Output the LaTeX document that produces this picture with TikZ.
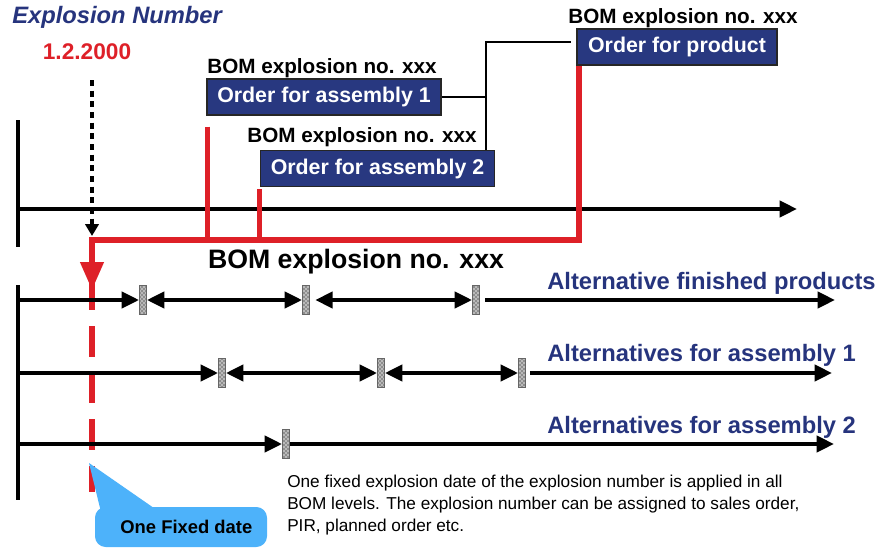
\documentclass[tikz,border=0pt]{standalone}
\usepackage{fontspec}
\setmainfont{Liberation Sans}
\usetikzlibrary{arrows.meta,calc,patterns}
\definecolor{boxblue}{RGB}{40,56,128}
\definecolor{txtblue}{RGB}{38,52,125}
\definecolor{myred}{RGB}{222,32,40}
\definecolor{callblue}{RGB}{77,178,250}
\begin{document}
\begin{tikzpicture}[x=0.75pt,y=-0.75pt,
  orderbox/.style={draw=black!85, line width=0.8pt, fill=boxblue, text=white,
    font=\bfseries\fontsize{16}{18}\selectfont, minimum height=27pt, inner sep=0pt},
  bomlab/.style={font=\bfseries\fontsize{15.5}{18}\selectfont, inner sep=0pt},
  altlab/.style={font=\bfseries\fontsize{17.8}{20}\selectfont, text=txtblue, anchor=west, inner sep=0pt},
  marker/.style={draw=black!60, line width=0.4pt, preaction={fill=gray!55},
    pattern=crosshatch dots, pattern color=black,
    minimum width=5.5pt, minimum height=22pt, inner sep=0pt},
  tl/.style={line width=3pt, black, >={Triangle[length=13pt,width=12pt]}},
  axis/.style={line width=3.5pt, black},
  redline/.style={line width=4pt, myred},
  conn/.style={line width=2.2pt, black}
]
\useasboundingbox (0,0) rectangle (885,553);

% titles
\node[font=\bfseries\itshape\fontsize{17.8}{20}\selectfont, text=txtblue, anchor=west, inner sep=0pt] (title) at (12,17) {Explosion Number};
\node[font=\bfseries\fontsize{17}{20}\selectfont, text=myred, inner sep=0pt] (date) at (87,52) {1.2.2000};

% top axis
\coordinate (vt1) at (18,120);
\coordinate (vt2) at (18,247);
\draw[axis] (vt1) -- (vt2);
\coordinate (ta) at (18,209);
\coordinate (tb) at (797,209);
\draw[tl,->] (ta) -- (tb);

% order boxes
\node[orderbox, minimum width=175.5pt] (asm1) at (324,97) {Order for assembly 1};
\node[bomlab, anchor=south] (lab1) at (322,78) {BOM explosion no. xxx};
\node[orderbox, minimum width=176pt] (asm2) at (377.5,168.5) {Order for assembly 2};
\node[bomlab, anchor=south] (lab2) at (362,147) {BOM explosion no. xxx};
\node[orderbox, minimum width=150pt] (prod) at (677,47) {Order for product};
\node[bomlab, anchor=south] (lab3) at (683,28) {BOM explosion no. xxx};

% black connectors
\coordinate (jx) at (486,42);
\coordinate (j) at (asm1.east -| jx);
\draw[conn] (asm1.east) -- (j);
\draw[conn] (asm2.north -| jx) -- (jx) -- ([xshift=-4]prod.west |- jx);

% red lines
\coordinate (rcorner) at (92,240);
\coordinate (rtip) at (92,290);
\draw[redline, line join=miter, -{Triangle[length=21pt,width=17pt]}]
  ([xshift=2]prod.south west) |- (rcorner) -- (rtip);
\draw[redline] ([shift={(1,11)}]asm1.south west) coordinate (a1s) -- (a1s |- rcorner);
\draw[redline] ([shift={(0,2)}]asm2.south west) coordinate (a2s) -- (a2s |- rcorner);

% dotted arrow
\coordinate (dstart) at (92,80);
\coordinate (dtip) at (92,236);
\draw[line width=3pt, dash pattern=on 4.5pt off 3.5pt, -{Triangle[length=9pt,width=10pt]}] (dstart) -- (dtip);

% big label
\node[font=\bfseries\fontsize{20}{22}\selectfont, inner sep=0pt] (bom) at (356,262) {BOM explosion no. xxx};

% bottom axis
\coordinate (vb1) at (18,285);
\coordinate (vb2) at (18,500);
\draw[axis] (vb1) -- (vb2);

% red dashed
\coordinate (rdend) at (92,492);
\draw[redline, dash pattern=on 23pt off 12pt] ([yshift=8]rtip) -- (rdend);

% row 1
\coordinate (r1s) at (18,300);
\coordinate (r1e) at (835,300);
\node[marker] (m11) at (143,300) {};
\node[marker] (m12) at (306,300) {};
\node[marker] (m13) at (476,300) {};
\draw[tl,->] (r1s) -- (m11.west);
\draw[tl,<->] (m11.east) -- (m12.west);
\draw[tl,<->] ([xshift=4]m12.east) -- (m13.west);
\draw[tl,->] ([xshift=4]m13.east) -- (r1e);
\node[altlab] (alt1) at (547,283) {Alternative finished products};

% row 2
\coordinate (r2s) at (18,373);
\coordinate (r2e) at (832,373);
\node[marker] (m21) at (222,373) {};
\node[marker] (m22) at (381,373) {};
\node[marker] (m23) at (522,373) {};
\draw[tl,->] (r2s) -- (m21.west);
\draw[tl,<->] (m21.east) -- (m22.west);
\draw[tl,<->] (m22.east) -- (m23.west);
\draw[tl,->] ([xshift=3]m23.east) -- (r2e);
\node[altlab] (alt2) at (547,355) {Alternatives for assembly 1};

% row 3
\coordinate (r3s) at (18,444);
\coordinate (r3e) at (834,444);
\node[marker] (m31) at (286,444) {};
\draw[tl,->] (r3s) -- (m31.west);
\draw[tl,->] (m31.east) -- (r3e);
\node[altlab] (alt3) at (547,427) {Alternatives for assembly 2};

% callout
\node[fill=callblue, rounded corners=8pt, minimum width=129pt, minimum height=30pt, inner sep=0pt] (call) at (181,527) {};
\coordinate (ctip) at (89,463);
\fill[callblue] (ctip) -- ([xshift=-60]call.north |- 0,512) -- ([xshift=-16]call.north |- 0,512) -- cycle;
\node[font=\bfseries\fontsize{13.8}{16}\selectfont, inner sep=0pt] (calltext) at ([xshift=4]call.center) {One Fixed date};

% description
\node[anchor=north west, align=left, inner sep=0pt, font=\fontsize{12.9}{16.5}\selectfont] (desc) at (287,474.5)
  {One fixed explosion date of the explosion number is applied in all\\
   BOM levels. The explosion number can be assigned to sales order,\\
   PIR, planned order etc.};
\end{tikzpicture}
\end{document}
